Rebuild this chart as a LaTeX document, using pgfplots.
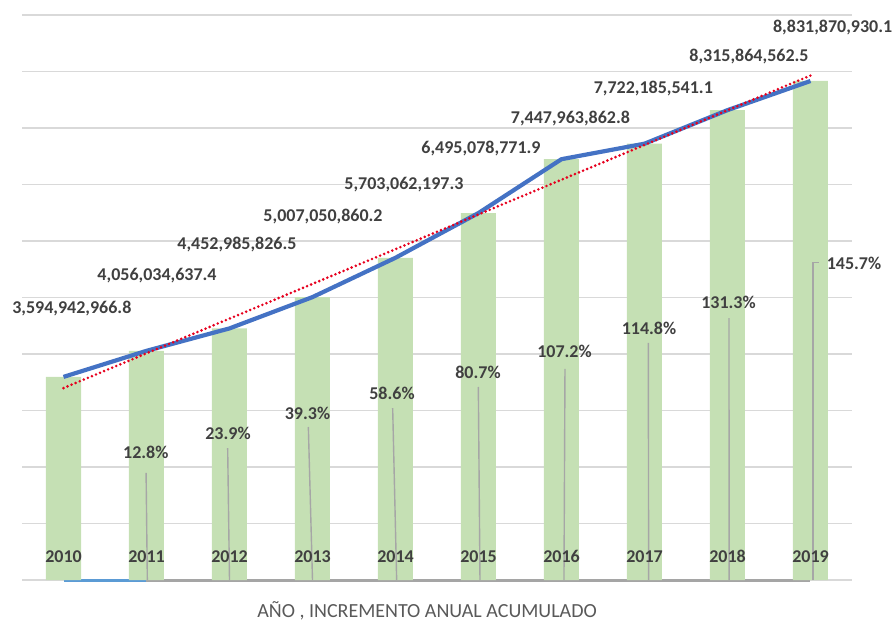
\documentclass[border=0pt]{standalone}
\usepackage{pgfplots}
\usepackage{pgfplotstable}
\pgfplotsset{compat=1.18}
\usepackage{fontspec}
\setmainfont{Carlito}
\definecolor{barg}{HTML}{C5E0B4}
\definecolor{lineb}{HTML}{4472C4}
\definecolor{baseb}{HTML}{5B9BD5}
\definecolor{baseg}{HTML}{A5A5A5}
\definecolor{gridc}{HTML}{D9D9D9}
\definecolor{txt}{HTML}{404040}
\definecolor{ttl}{HTML}{595959}
\definecolor{leadc}{HTML}{A6A6A6}
\definecolor{trendr}{RGB}{230,0,30}
\pgfplotsset{leader/.style={draw=leadc, line width=0.7pt, forget plot}}
\pgfplotstableread{
x v
0 3.5949429668
1 4.0560346374
2 4.4529858265
3 5.0070508602
4 5.7030621973
5 6.4950787719
6 7.4479638628
7 7.7221855411
8 8.3158645625
9 8.8318709301
}\datatab
\begin{document}
\begin{tikzpicture}[
  lab/.style={font=\bfseries\fontsize{9}{10}\selectfont, text=txt, inner sep=0pt, text height=5.7pt, text depth=0pt, anchor=center}]
\begin{axis}[
  name=ax,
  scale only axis,
  width=415pt, height=282.5pt,
  xmin=-0.5, xmax=9.5, ymin=0, ymax=10,
  axis line style={draw=none},
  xtick=\empty,
  ytick={0,1,...,10},
  yticklabels={},
  major tick length=0pt,
  ymajorgrids,
  grid style={draw=gridc, line width=0.8pt},
  clip=false,
]
% baseline series
\addplot[baseb, line width=1.5pt, forget plot] coordinates {(0,0) (1,0)};
\addplot[baseg, line width=1.5pt, forget plot] coordinates {(1,0) (2,0) (3,0) (4,0) (5,0) (6,0) (7,0) (8,0) (9,0)};
% bars
\addplot[ybar, bar width=17.5pt, fill=barg, draw=none] table[x=x, y=v] {\datatab};
% leader lines
\addplot[leader] coordinates {(0.995,1.894) (1.01,0)};
\addplot[leader] coordinates {(1.978,2.336) (2.0,0)};
\addplot[leader] coordinates {(2.95,2.708) (3.0,0)};
\addplot[leader] coordinates {(3.966,3.044) (4.014,0)};
\addplot[leader] coordinates {(4.998,3.416) (5.018,0)};
\addplot[leader] coordinates {(6.042,3.735) (6.03,0)};
\addplot[leader] coordinates {(7.046,4.195) (7.05,0)};
\addplot[leader] coordinates {(8.018,4.637) (8.02,0)};
\addplot[leader] coordinates {(9.102,5.616) (9.030,5.616) (9.030,0)};
% line
\addplot[lineb, line width=2.1pt, line join=round] table[x=x, y=v] {\datatab};
% trend
\addplot[trendr, line width=1.45pt, line cap=round, dash pattern=on 0pt off 2.2pt] table[x=x, y={create col/linear regression={y=v}}] {\datatab};
% year labels
\foreach \i/\yr in {0/2010,1/2011,2/2012,3/2013,4/2014,5/2015,6/2016,7/2017,8/2018,9/2019}{
  \edef\tmp{\noexpand\node[lab] at (axis cs:\i,0.412) {\yr};}\tmp
}
% value labels
\node[lab] at (axis cs:0.100,4.809) {3,594,942,966.8};
\node[lab] at (axis cs:1.127,5.398) {4,056,034,637.4};
\node[lab] at (axis cs:2.090,5.959) {4,452,985,826.5};
\node[lab] at (axis cs:3.127,6.442) {5,007,050,860.2};
\node[lab] at (axis cs:4.102,7.021) {5,703,062,197.3};
\node[lab] at (axis cs:5.030,7.651) {6,495,078,771.9};
\node[lab] at (axis cs:6.108,8.172) {7,447,963,862.8};
\node[lab] at (axis cs:7.106,8.703) {7,722,185,541.1};
\node[lab] at (axis cs:8.259,9.274) {8,315,864,562.5};
\node[lab] at (axis cs:9.267,9.793) {8,831,870,930.1};
% percentage labels
\node[lab] at (axis cs:0.992,2.253) {12.8\%};
\node[lab] at (axis cs:1.982,2.584) {23.9\%};
\node[lab] at (axis cs:2.940,2.938) {39.3\%};
\node[lab] at (axis cs:3.958,3.292) {58.6\%};
\node[lab] at (axis cs:4.994,3.664) {80.7\%};
\node[lab] at (axis cs:6.036,4.035) {107.2\%};
\node[lab] at (axis cs:7.054,4.442) {114.8\%};
\node[lab] at (axis cs:8.012,4.903) {131.3\%};
\node[lab] at (axis cs:9.524,5.593) {145.7\%};
\end{axis}
\node[font=\fontsize{10}{12}\selectfont, text=ttl, inner sep=0pt, text height=6.5pt, text depth=0pt] at ([xshift=202.5pt,yshift=-15.5pt]ax.south west) {AÑO , INCREMENTO ANUAL ACUMULADO};
\pgfresetboundingbox
\path ([xshift=-11pt,yshift=-21pt]ax.south west) rectangle ([xshift=436pt,yshift=290pt]ax.south west);
\end{tikzpicture}
\end{document}
